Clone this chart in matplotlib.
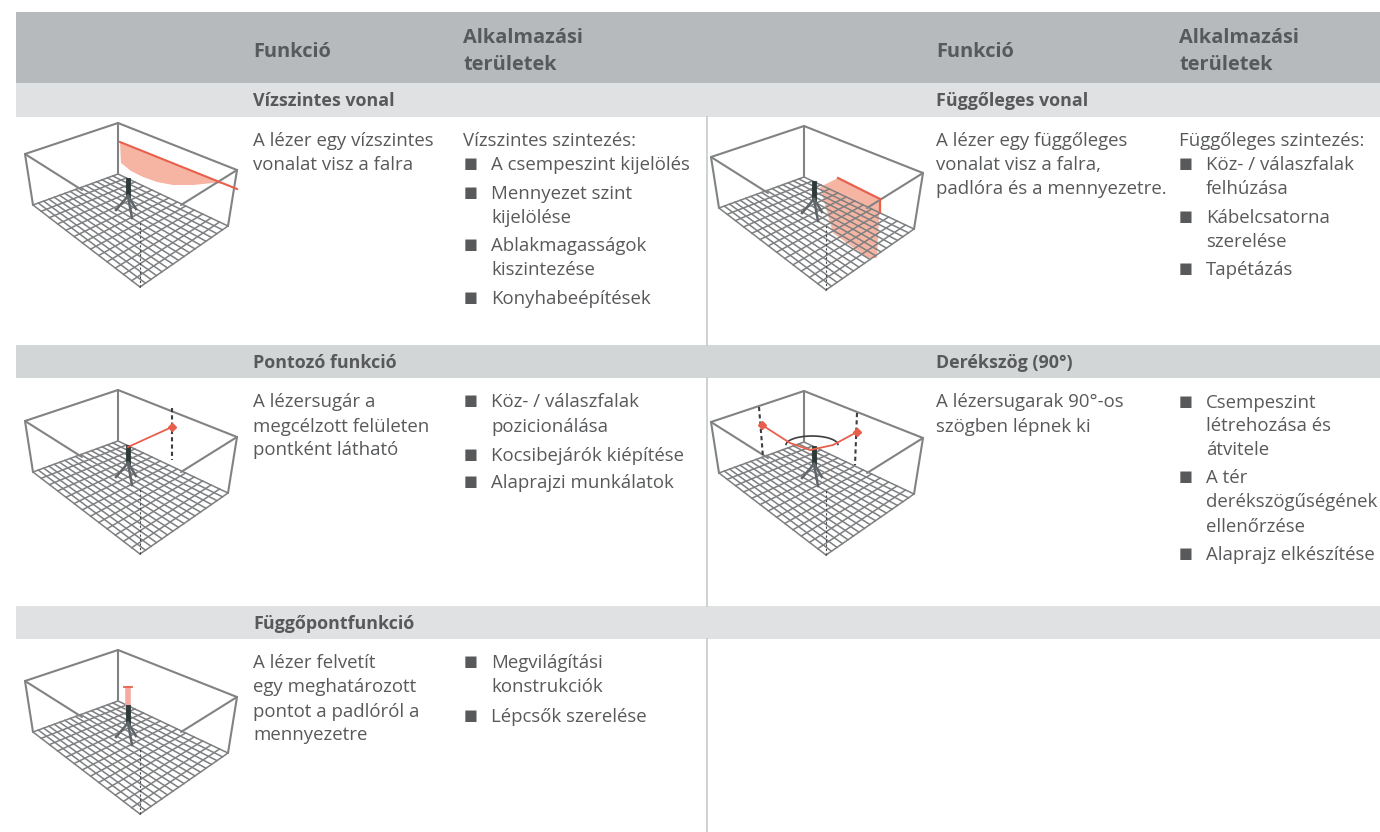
import numpy as np
import matplotlib
matplotlib.use("Agg")
import matplotlib.pyplot as plt

FONT = ["Open Sans", "DejaVu Sans"]
TEXT = "#58595b"
HEAD_BG = "#b6babc"
SUB_BG = "#dfe1e3"
SUB_BG2 = "#d3d6d7"
GRID = "#7d7f81"
RED = "#e8604c"
PINK = "#f6b5a3"

header_func = "Funkció"
header_area = ["Alkalmazási", "területek"]

sub_left = ["Vízszintes vonal", "Pontozó funkció", "Függőpontfunkció"]
sub_right = ["Függőleges vonal", "Derékszög (90°)"]

func_left = [
    ["A lézer egy vízszintes", "vonalat visz a falra"],
    ["A lézersugár a", "megcélzott felületen", "pontként látható"],
    ["A lézer felvetít", "egy meghatározott", "pontot a padlóról a", "mennyezetre"],
]
func_right = [
    ["A lézer egy függőleges", "vonalat visz a falra,", "padlóra és a mennyezetre."],
    ["A lézersugarak 90°-os", "szögben lépnek ki"],
]
# (text, baseline y, has bullet)
area_left = [
    [("Vízszintes szintezés:", 146, 0), ("A csempeszint kijelölés", 170, 1), ("Mennyezet szint", 199, 1),
     ("kijelölése", 223, 0), ("Ablakmagasságok", 251, 1), ("kiszintezése", 275, 0), ("Konyhabeépítések", 304, 1)],
    [("Köz- / válaszfalak", 407, 1), ("pozicionálása", 432, 0), ("Kocsibejárók kiépítése", 461, 1),
     ("Alaprajzi munkálatok", 488, 1)],
    [("Megvilágítási", 668, 1), ("konstrukciók", 692, 0), ("Lépcsők szerelése", 722, 1)],
]
area_right = [
    [("Függőleges szintezés:", 146, 0), ("Köz- / válaszfalak", 170, 1), ("felhúzása", 194, 0),
     ("Kábelcsatorna", 223, 1), ("szerelése", 247, 0), ("Tapétázás", 275, 1)],
    [("Csempeszint", 408, 1), ("létrehozása és", 431, 0), ("átvitele", 455, 0), ("A tér", 483, 1),
     ("derékszögűségének", 507, 0), ("ellenőrzése", 532, 0), ("Alaprajz elkészítése", 560, 1)],
]

fig = plt.figure(figsize=(13.8, 8.32), dpi=100)
ax = fig.add_axes([0, 0, 1, 1])
ax.set_xlim(0, 1380)
ax.set_ylim(832, 0)
ax.axis("off")


def bar(y0, y1, c):
    ax.fill_between([16, 1380], y0, y1, color=c, lw=0, zorder=1)


def room(dx, dy):
    off = np.array([dx, dy], float)
    lf = np.array([33, 205.0]) + off
    bf = np.array([118, 174.0]) + off
    rf = np.array([228, 226.0]) + off
    ff = np.array([140, 287.0]) + off
    lt = np.array([25, 154.0]) + off
    bt = np.array([118, 123.0]) + off
    rt = np.array([237, 170.0]) + off
    # the two front edges stop behind the floor
    lm = np.array([82, 190.0]) + off
    rm = np.array([181, 205.0]) + off
    for i in range(17):
        t = i / 16
        a = lf + (bf - lf) * t
        b = ff + (rf - ff) * t
        ax.plot(*zip(a, b), color=GRID, lw=1.1, zorder=3)
    for i in range(14):
        t = i / 13
        a = lf + (ff - lf) * t
        b = bf + (rf - bf) * t
        ax.plot(*zip(a, b), color=GRID, lw=1.1, zorder=3)
    for a, b in [(lt, bt), (bt, rt), (lt, lf), (rt, rf), (bt, bf), (lt, lm), (rt, rm)]:
        ax.plot(*zip(a, b), color="#808284", lw=1.5, zorder=4, solid_capstyle="round")
    # vertical through the front corner
    ax.plot([ff[0], ff[0]], [ff[1], ff[1] - 65], color="#444547", lw=0.8, ls=(0, (2, 2)), zorder=4)
    # tripod
    ax.plot([128 + dx, 128 + dx], [180 + dy, 196 + dy], color="#2e3a38", lw=3.5, zorder=6)
    ax.plot([128 + dx, 116 + dx], [196 + dy, 210 + dy], color="#60656a", lw=1.8, zorder=6)
    ax.plot([128 + dx, 136 + dx], [196 + dy, 209 + dy], color="#60656a", lw=1.8, zorder=6)
    ax.plot([128 + dx, 132 + dx], [196 + dy, 218 + dy], color="#60656a", lw=1.8, zorder=6)


def dashed(x0, y0, x1, y1):
    ax.plot([x0, x1], [y0, y1], color="#3c3d3f", lw=1.5, ls=(0, (2, 1.5)), zorder=5)


def dot(x, y):
    ax.plot([x], [y], marker="D", ms=4, color=RED, zorder=8)


# backgrounds
bar(12, 83, HEAD_BG)
bar(83, 117, SUB_BG)
bar(345, 378, SUB_BG2)
bar(606, 639, SUB_BG)
for y0, y1 in [(117, 345), (378, 606), (639, 832)]:
    ax.plot([706.5, 706.5], [y0, y1], color="#c6c9cb", lw=1.2, zorder=2)

# rooms
room(0, 0)
room(0, 267)
room(0, 527)
room(686, 3)
room(686, 268)

# laser marks
ax.fill([120, 237, 225, 213, 193, 173, 157, 143, 131, 121], [142, 189, 184, 183, 185, 185, 182, 177, 171, 163],
        color=PINK, lw=0, zorder=2)
ax.plot([120, 237], [142, 189], color=RED, lw=1.5, zorder=5)

ax.fill([820, 838, 880, 877, 868, 833], [187, 178, 199, 258, 258, 233], color=PINK, lw=0, zorder=2)
ax.plot([838, 880], [178, 199], color=RED, lw=1.6, zorder=5)
ax.plot([880, 880], [199, 212], color=RED, lw=1.6, zorder=5)

dashed(172, 408, 172, 460)
ax.plot([128, 172], [447, 427], color=RED, lw=1.3, zorder=7)
dot(172, 427)

dashed(759, 407, 763, 457)
dashed(857, 413, 855, 465)
ax.plot([762, 790, 810, 833, 857], [425, 443, 450, 445, 432], color=RED, lw=1.3, zorder=7)
dot(762, 425)
dot(857, 432)
th = np.linspace(np.pi * 1.02, np.pi * 1.98, 30)
ax.plot(812 + 26 * np.cos(th), 445 + 9 * np.sin(th), color="#3c3d3f", lw=1.2, zorder=6)

ax.plot([128, 128], [690, 708], color="#f6a9a0", lw=4, zorder=5)
ax.plot([124, 132], [687, 687], color=RED, lw=1.3, zorder=7)


def label(x, y, s, bold=False, size=13.45):
    ax.text(x, y, s, color=TEXT, fontsize=size, family=FONT, weight="bold" if bold else "normal",
            va="baseline", ha="left", zorder=10)


# header
for x_f, x_a in [(253, 463), (936, 1179)]:
    label(x_f, 57, header_func, True, 14.4)
    label(x_a, 43, header_area[0], True, 14.4)
    label(x_a, 70, header_area[1], True, 14.4)

for y, s in zip([106, 368, 629], sub_left):
    label(253, y, s, True, 12.9)
for y, s in zip([106, 368], sub_right):
    label(936, y, s, True, 12.9)

body_y = [[146, 170], [407, 432, 455], [668, 692, 717, 740]]
for ys, lines in zip(body_y, func_left):
    for y, s in zip(ys, lines):
        label(253, y, s)
body_y = [[146, 170, 194], [407, 432]]
for ys, lines in zip(body_y, func_right):
    for y, s in zip(ys, lines):
        label(936, y, s)


def area(rows, x_head, x_mark, x_text):
    for rs in rows:
        for s, y, b in rs:
            if b:
                label(x_mark, y - 2, "\u25a0", size=10.5)
                label(x_text, y, s)
            elif s.endswith(":"):
                label(x_head, y, s)
            else:
                label(x_text, y, s)


area(area_left, 463, 464, 491)
area(area_right, 1179, 1179, 1206)

fig.savefig("out.png", dpi=100)
